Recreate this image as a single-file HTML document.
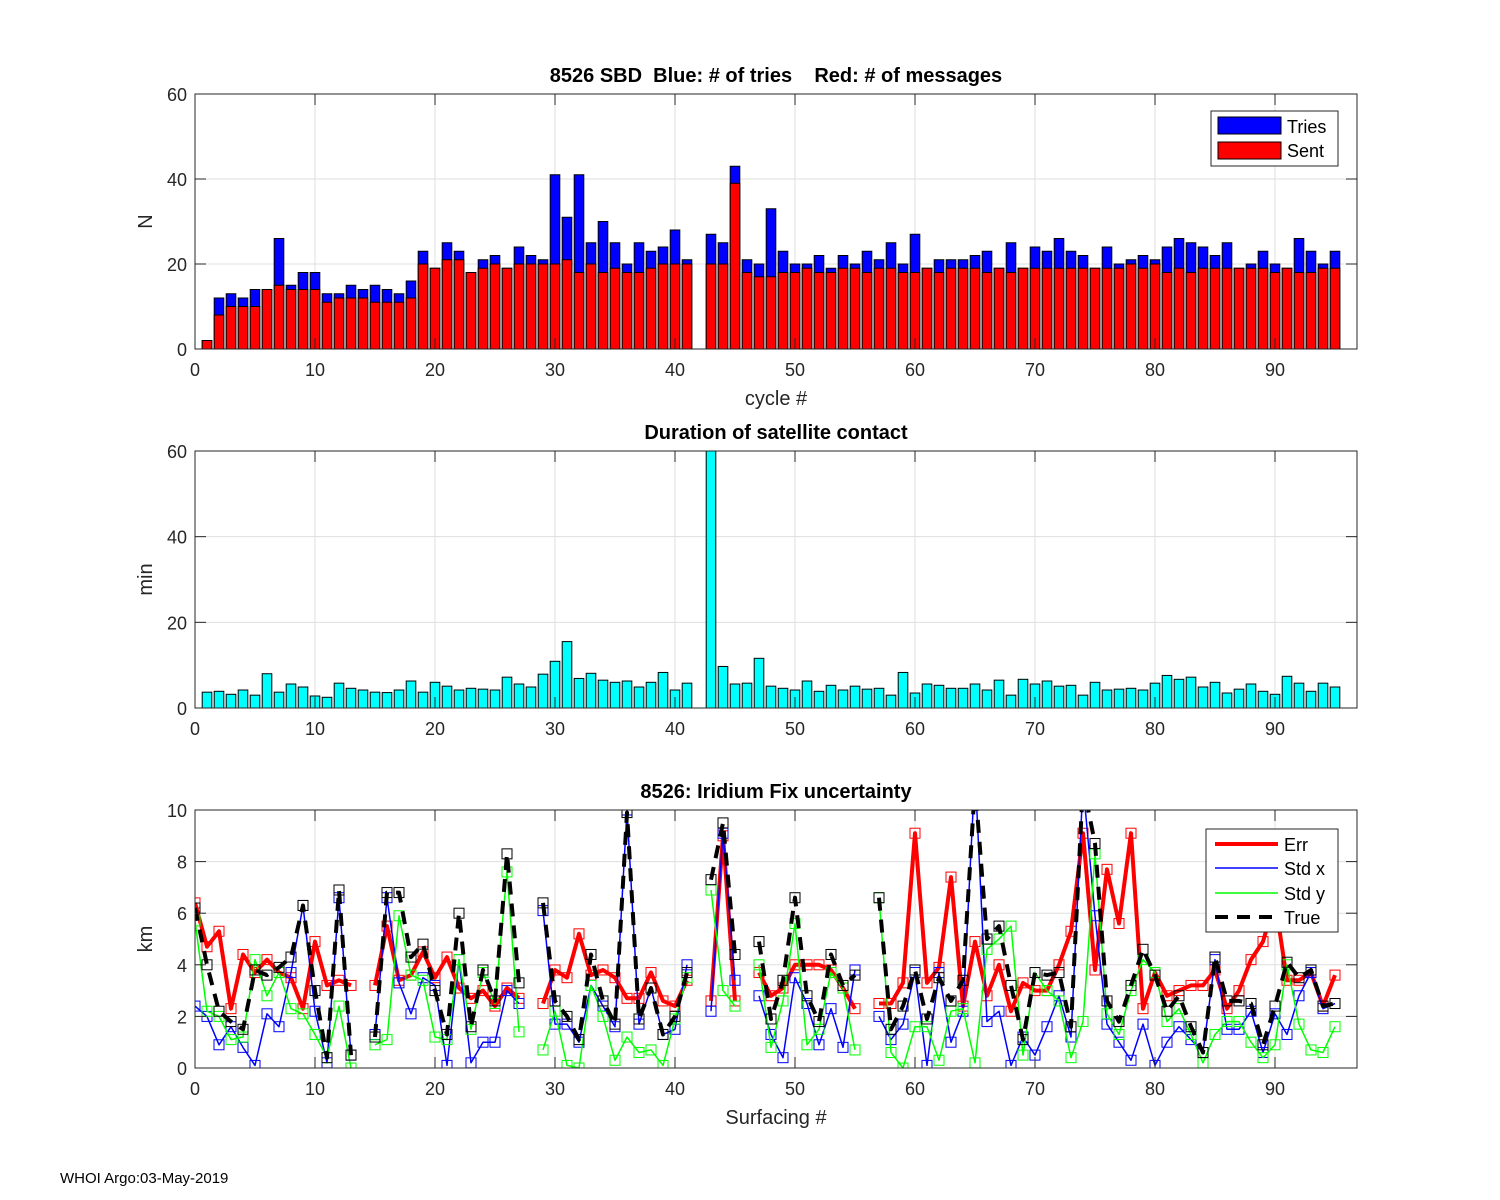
<!DOCTYPE html>
<html><head><meta charset="utf-8"><style>
html,body{margin:0;padding:0;background:#fff;}
svg{display:block;font-family:"Liberation Sans",Arial,sans-serif;}
text{white-space:pre;}
</style></head><body>
<svg id="fig" width="1500" height="1200" viewBox="0 0 1500 1200" xmlns="http://www.w3.org/2000/svg" xml:space="preserve">
<rect width="1500" height="1200" fill="#fff"/>
<text x="60" y="1183" font-size="15" fill="#000">WHOI Argo:03-May-2019</text>
</svg>
<script>
// ---- chart data ----
const tries = [2,12,13,12,14,14,26,15,18,18, 13,13,15,14,15,14,13,16,23,19, 25,23,18,21,22,19,24,22,21,41, 31,41,25,30,25,20,25,23,24,28, 21,null,27,25,43,21,20,33,23,20, 20,22,19,22,20,23,21,25,20,27, 19,21,21,21,22,23,19,25,19,24, 23,26,23,22,19,24,20,21,22,21, 24,26,25,24,22,25,19,20,23,20, 19,26,23,20,23];
const sent = [2,8,10,10,10,14,15,14,14,14, 11,12,12,12,11,11,11,12,20,19, 21,21,18,19,20,19,20,20,20,20, 21,18,20,18,19,18,18,19,20,20, 20,null,20,20,39,18,17,17,18,18, 19,18,18,19,19,18,19,19,18,18, 19,18,19,19,19,18,19,18,19,19, 19,19,19,19,19,19,19,20,19,20, 18,19,18,19,19,19,19,19,19,18, 19,18,18,19,19];
const duration = [3.7,3.9,3.2,4.2,3.0,8.0,3.7,5.6,4.9,2.8, 2.5,5.8,4.6,4.2,3.7,3.6,4.2,6.3,3.7,6.0, 5.1,4.2,4.6,4.4,4.2,7.2,5.6,4.9,7.9,10.9, 15.5,6.9,8.1,6.5,6.0,6.3,4.9,6.0,8.3,4.2, 5.8,null,70,9.7,5.6,5.8,11.6,5.1,4.6,4.2, 6.3,3.9,5.3,4.2,5.1,4.4,4.6,3.0,8.3,3.5, 5.6,5.3,4.6,4.6,5.6,4.2,6.5,3.0,6.7,5.6, 6.3,5.1,5.3,3.0,6.0,4.2,4.4,4.6,4.2,5.8, 7.6,6.7,7.2,4.9,6.0,3.5,4.4,5.6,3.9,3.2, 7.4,5.8,3.9,5.8,4.9];
const errKm = [6.4,4.7,5.3,2.3,4.4,3.7,4.2,3.7,3.5,2.3, 4.9,3.2,3.4,3.2,null,3.2,5.5,3.4,3.6,4.5, 3.5,4.3,3.1,2.7,3.0,2.4,3.1,2.7,null,2.5, 3.8,3.5,5.2,3.6,3.8,3.5,2.7,2.7,3.7,2.6, 2.4,3.4,null,2.6,9.0,2.6,null,3.7,2.8,3.1, 4.0,4.0,4.0,3.8,3.1,2.3,null,2.5,2.5,3.3, 9.1,3.3,3.9,7.4,2.4,4.9,2.8,4.0,2.2,3.3, 3.0,3.0,4.0,5.3,9.1,3.8,7.7,5.6,9.1,2.3, 3.7,2.8,3.0,3.2,3.2,3.8,2.3,3.0,4.2,4.9, 6.5,3.4,3.4,3.7,2.4,3.6];
const stdX = [2.4,2.0,0.9,1.6,0.8,0.1,2.1,1.6,3.7,6.3, 2.2,0.2,6.6,0.5,null,1.3,6.6,3.3,2.1,3.5, 3.2,0.1,4.2,0.2,1.0,1.0,3.0,2.5,null,6.1, 1.7,1.7,1.0,3.2,2.4,1.6,10.0,1.7,3.1,1.3, 1.5,4.0,null,2.2,9.1,3.4,null,2.8,1.3,0.4, 3.5,2.5,0.9,2.3,0.8,3.8,null,2.0,1.1,1.7, 3.7,0.1,3.7,1.0,2.2,11.5,1.8,2.2,0.1,1.2, 0.5,1.6,2.8,1.2,11,5.9,1.7,1.0,0.3,1.7, 0.1,1.0,1.6,1.1,0.6,4.2,1.5,1.5,2.2,0.6, 2.1,1.3,2.8,3.7,2.3,2.5];
const stdY = [5.7,2.2,2.0,1.1,1.2,4.2,2.8,3.7,2.3,2.1, 1.3,0.4,2.4,0.0,null,0.9,1.1,5.9,3.6,3.4, 1.2,1.1,4.2,1.5,3.7,2.5,7.6,1.4,null,0.7, 2.2,0.1,0.0,3.2,2.0,0.3,1.2,0.6,0.7,0.1, 1.9,3.5,null,6.9,3.0,2.4,null,4.0,0.8,2.6, 5.6,0.9,1.5,3.7,3.1,0.7,null,6.6,0.6,0.0, 1.6,1.6,0.3,2.2,2.3,0.2,4.6,5.0,5.5,0.5, 3.7,3.0,2.6,0.4,1.8,8.3,2.1,1.3,3.0,4.2, 3.7,1.8,2.3,1.3,0.2,1.3,1.8,1.8,1.0,0.4, 0.9,4.0,1.7,0.7,0.6,1.6];
const trueKm = [6.2,4.0,2.2,1.8,1.5,3.8,3.6,3.9,4.3,6.3, 3.0,0.4,6.9,0.5,null,1.2,6.8,6.8,4.3,4.8, 3.0,1.3,6.0,1.6,3.8,2.6,8.3,3.3,null,6.4, 2.6,2.0,1.1,4.4,2.6,1.7,9.9,1.9,3.1,1.3, 2.0,3.7,null,7.3,9.5,4.4,null,4.9,1.9,3.4, 6.6,2.8,1.8,4.4,3.2,3.6,null,6.6,1.5,2.4, 3.8,1.9,3.5,2.6,3.4,11,5.0,5.5,3.2,1.1, 3.7,3.6,3.7,1.6,11,8.7,2.6,1.8,3.2,4.6, 3.6,2.2,2.8,1.6,0.6,4.3,2.6,2.6,2.5,0.9, 2.4,4.1,3.5,3.8,2.4,2.5];
const xTicks = [0,10,20,30,40,50,60,70,80,90];
const yTicks1 = [0,20,40,60];
const yTicks3 = [0,2,4,6,8,10];

// ---- helpers ----
const NS='http://www.w3.org/2000/svg';
const svg=document.getElementById('fig');
const XL=195, XR=1357, XMAX=(1357-195)/12;
function sx(v){return XL+(v/XMAX)*(XR-XL);}
function mk(tag,attrs,parent){const e=document.createElementNS(NS,tag);for(const k in attrs)e.setAttribute(k,attrs[k]);(parent||svg).appendChild(e);return e;}
function yScale(ax){return v=>ax.bottom-(v/ax.ymax)*(ax.bottom-ax.top);}

function drawAxes(ax){
  const g=mk('g',{});
  
  
  mk('rect',{x:XL,y:ax.top,width:XR-XL,height:ax.bottom-ax.top,fill:'#fff'},g);
  const sy=yScale(ax);
  xTicks.forEach(t=>{
    const gl=mk('line',{x1:sx(t),x2:sx(t),y1:ax.top,y2:ax.bottom,stroke:'#dfdfdf','stroke-width':1},g);
    
    
  });
  ax.yt.forEach(t=>{
    const gl=mk('line',{x1:XL,x2:XR,y1:sy(t),y2:sy(t),stroke:'#dfdfdf','stroke-width':1},g);
    
    
  });
  return g;
}
function drawFrame(ax){
  const g=mk('g',{});
  
  
  const sy=yScale(ax);
  mk('rect',{x:XL,y:ax.top,width:XR-XL,height:ax.bottom-ax.top,fill:'none',stroke:'#262626','stroke-width':1},g);
  xTicks.forEach(t=>{
    mk('line',{x1:sx(t),x2:sx(t),y1:ax.bottom,y2:ax.bottom-11,stroke:'#262626'},g);
    mk('line',{x1:sx(t),x2:sx(t),y1:ax.top,y2:ax.top+11,stroke:'#262626'},g);
    const tl=mk('text',{x:sx(t),y:ax.bottom+27,'font-size':18,'text-anchor':'middle',fill:'#262626'},g);
    tl.textContent=t;
    
    
  });
  ax.yt.forEach(t=>{
    mk('line',{x1:XL,x2:XL+11,y1:sy(t),y2:sy(t),stroke:'#262626'},g);
    mk('line',{x1:XR,x2:XR-11,y1:sy(t),y2:sy(t),stroke:'#262626'},g);
    const tl=mk('text',{x:XL-8,y:sy(t)+7,'font-size':18,'text-anchor':'end',fill:'#262626'},g);
    tl.textContent=t;
    
    
  });
  const ti=mk('text',{x:776,y:ax.top-12,'font-size':20,'font-weight':'bold','text-anchor':'middle',fill:'#000'},g);
  ti.textContent=ax.title;
  
  
  const yl=mk('text',{x:0,y:0,'font-size':20,'text-anchor':'middle',fill:'#262626',transform:`translate(152,${(ax.top+ax.bottom)/2}) rotate(-90)`},g);
  yl.textContent=ax.ylabel;
  
  
  if(ax.xlabel){
    const xl=mk('text',{x:776,y:ax.bottom+56,'font-size':20,'text-anchor':'middle',fill:'#262626'},g);
    xl.textContent=ax.xlabel;
    
    
  }
}

// ---- Plot 1 ----
const ax1={name:'sbd',top:94,bottom:349,ymax:60,yt:yTicks1,title:'8526 SBD  Blue: # of tries    Red: # of messages',ylabel:'N',xlabel:'cycle #'};
drawAxes(ax1);
{
  const sy=yScale(ax1); const bw=9.6;
  const g=mk('g',{});
  
  
  tries.forEach((v,i)=>{
    if(v==null) return; const c=i+1;
    const r=mk('rect',{x:sx(c)-bw/2,y:sy(v),width:bw,height:sy(0)-sy(v),fill:'#0000ff',stroke:'#000','stroke-width':1},g);
    
    
  });
  sent.forEach((v,i)=>{
    if(v==null) return; const c=i+1;
    const r=mk('rect',{x:sx(c)-bw/2,y:sy(v),width:bw,height:sy(0)-sy(v),fill:'#ff0000',stroke:'#000','stroke-width':1},g);
    
    
  });
}
drawFrame(ax1);
{
  const lg=mk('g',{});
  
  
  mk('rect',{x:1211,y:111,width:127,height:55,fill:'#fff',stroke:'#262626'},lg);
  mk('rect',{x:1218,y:117,width:63,height:17,fill:'#0000ff',stroke:'#000'},lg);
  mk('rect',{x:1218,y:142,width:63,height:17,fill:'#ff0000',stroke:'#000'},lg);
  const t1=mk('text',{x:1287,y:133,'font-size':18,fill:'#000'},lg); t1.textContent='Tries';
  
  
  const t2=mk('text',{x:1287,y:157,'font-size':18,fill:'#000'},lg); t2.textContent='Sent';
  
  
}

// ---- Plot 2 ----
const ax2={name:'duration',top:451,bottom:708,ymax:60,yt:yTicks1,title:'Duration of satellite contact',ylabel:'min'};
drawAxes(ax2);
{
  const sy=yScale(ax2); const bw=9.6;
  const g=mk('g',{});
  
  
  duration.forEach((v,i)=>{
    if(v==null) return; const c=i+1; const vv=Math.min(v,ax2.ymax);
    const r=mk('rect',{x:sx(c)-bw/2,y:sy(vv),width:bw,height:sy(0)-sy(vv),fill:'#00ffff',stroke:'#000','stroke-width':1},g);
    
    
  });
}
drawFrame(ax2);

// ---- Plot 3 ----
const ax3={name:'fix',top:810,bottom:1068,ymax:10,yt:yTicks3,title:'8526: Iridium Fix uncertainty',ylabel:'km',xlabel:'Surfacing #'};
drawAxes(ax3);
mk('clipPath',{id:'clip3'}).appendChild((()=>{const r=document.createElementNS(NS,'rect');r.setAttribute('x',XL);r.setAttribute('y',ax3.top);r.setAttribute('width',XR-XL);r.setAttribute('height',ax3.bottom-ax3.top);return r;})());
function series(arr,color,width,dash,name){
  const sy=yScale(ax3);
  const g=mk('g',{'clip-path':'url(#clip3)'});
  
  
  let d='',pen=false;
  arr.forEach((v,i)=>{
    if(v==null){pen=false;return;}
    d+=(pen?'L':'M')+sx(i).toFixed(1)+' '+sy(v).toFixed(1)+' ';pen=true;
  });
  const p=mk('path',{d:d,fill:'none',stroke:color,'stroke-width':width,'stroke-linejoin':'round'},g);
  if(dash)p.setAttribute('stroke-dasharray',dash);
  
  
  arr.forEach((v,i)=>{
    if(v==null) return;
    const m=mk('rect',{x:sx(i)-5,y:sy(v)-5,width:10,height:10,fill:'none',stroke:color,'stroke-width':1},g);
    
    
  });
}
series(errKm,'#ff0000',4,null,'err');
series(stdX,'#0000ff',1.5,null,'std-x');
series(stdY,'#00ff00',1.5,null,'std-y');
series(trueKm,'#000000',4,'13,9','true');
drawFrame(ax3);
{
  const lg=mk('g',{});
  
  
  mk('rect',{x:1206,y:829,width:132,height:103,fill:'#fff',stroke:'#262626'},lg);
  const items=[['Err','#ff0000',4,null,844],['Std x','#0000ff',1.5,null,868],['Std y','#00ff00',1.5,null,893],['True','#000',4,'13,9',917]];
  items.forEach(it=>{
    const l=mk('line',{x1:1215,x2:1278,y1:it[4],y2:it[4],stroke:it[1],'stroke-width':it[2]},lg);
    if(it[3])l.setAttribute('stroke-dasharray',it[3]);
    const t=mk('text',{x:1284,y:it[4]+7,'font-size':18,fill:'#000'},lg);
    t.textContent=it[0];
    
    
  });
}
</script>
</body></html>
